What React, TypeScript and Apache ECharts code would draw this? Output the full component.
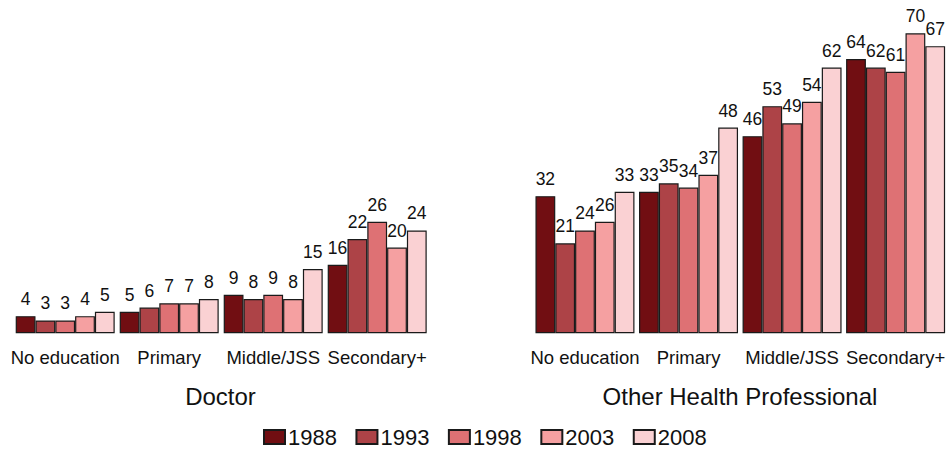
import React, { useEffect, useRef } from "react";
import * as echarts from "echarts";

const categories = ["No education", "Primary", "Middle/JSS", "Secondary+"];
const years = ["1988", "1993", "1998", "2003", "2008"];
const colors = ["#710E12", "#AD4347", "#DE7174", "#F5A0A1", "#FAD1D3"];
const panelTitles = ["Doctor", "Other Health Professional"];

// Doctor values, one array per survey year (ordered by categories)
const doctor1988 = [4, 5, 9, 16];
const doctor1993 = [3, 6, 8, 22];
const doctor1998 = [3, 7, 9, 26];
const doctor2003 = [4, 7, 8, 20];
const doctor2008 = [5, 8, 15, 24];

// Other Health Professional values
const other1988 = [32, 33, 46, 64];
const other1993 = [21, 35, 53, 62];
const other1998 = [24, 34, 49, 61];
const other2003 = [26, 37, 54, 70];
const other2008 = [33, 48, 62, 67];

const doctorSeries = [doctor1988, doctor1993, doctor1998, doctor2003, doctor2008];
const otherSeries = [other1988, other1993, other1998, other2003, other2008];

const FONT = "'Liberation Sans', Arial, Helvetica, sans-serif";

export default function App() {
  const ref = useRef<HTMLDivElement>(null);

  useEffect(() => {
    if (!ref.current) return;
    const chart = echarts.init(ref.current, null, { renderer: "svg" });

    const mkSeries = (data: number[], i: number, axis: number) => ({
      name: years[i],
      type: "bar",
      xAxisIndex: axis,
      yAxisIndex: axis,
      data,
      barWidth: 19.8,
      barGap: "0%",
      itemStyle: { color: colors[i], borderColor: "#1a1a1a", borderWidth: 1.2 },
      label: {
        show: true,
        position: "top",
        distance: 8,
        color: "#111",
        fontSize: 17.5,
        fontFamily: FONT,
      },
    });

    const grids = [
      { left: 13.2, width: 416, top: 33.3, height: 300 },
      { left: 533.2, width: 416, top: 33.3, height: 300 },
    ];

    const xAxes = grids.map((_, k) => ({
      type: "category",
      gridIndex: k,
      data: categories,
      axisLine: { show: false },
      axisTick: { show: false },
      axisLabel: {
        color: "#111",
        fontSize: 18.5,
        fontFamily: FONT,
        margin: 15,
        interval: 0,
      },
    }));

    const yAxes = grids.map((_, k) => ({
      type: "value",
      gridIndex: k,
      min: 0,
      max: 70,
      show: false,
    }));

    const option = {
      animation: false,
      backgroundColor: "#fff",
      textStyle: { fontFamily: FONT },
      grid: grids,
      xAxis: xAxes,
      yAxis: yAxes,
      legend: {
        data: years,
        left: 263,
        top: 426,
        padding: 0,
        itemWidth: 21,
        itemHeight: 14,
        itemGap: 18.5,
        icon: "rect",
        textStyle: { fontSize: 22, color: "#111", fontFamily: FONT, padding: [0, 0, 0, -2] },
      },
      graphic: [
        {
          type: "text",
          x: 220.5,
          y: 396,
          style: {
            text: panelTitles[0],
            fontSize: 24,
            fontFamily: FONT,
            fill: "#111",
            textAlign: "center",
            verticalAlign: "middle",
          },
        },
        {
          type: "text",
          x: 740,
          y: 396,
          style: {
            text: panelTitles[1],
            fontSize: 24,
            fontFamily: FONT,
            fill: "#111",
            textAlign: "center",
            verticalAlign: "middle",
          },
        },
      ],
      series: [
        ...doctorSeries.map((d, i) => mkSeries(d, i, 0)),
        ...otherSeries.map((d, i) => mkSeries(d, i, 1)),
      ],
    };

    chart.setOption(option as any);
    return () => chart.dispose();
  }, []);

  return (
    <div
      ref={ref}
      style={{ position: "absolute", left: 0, top: 0, width: 948, height: 449 }}
    />
  );
}
